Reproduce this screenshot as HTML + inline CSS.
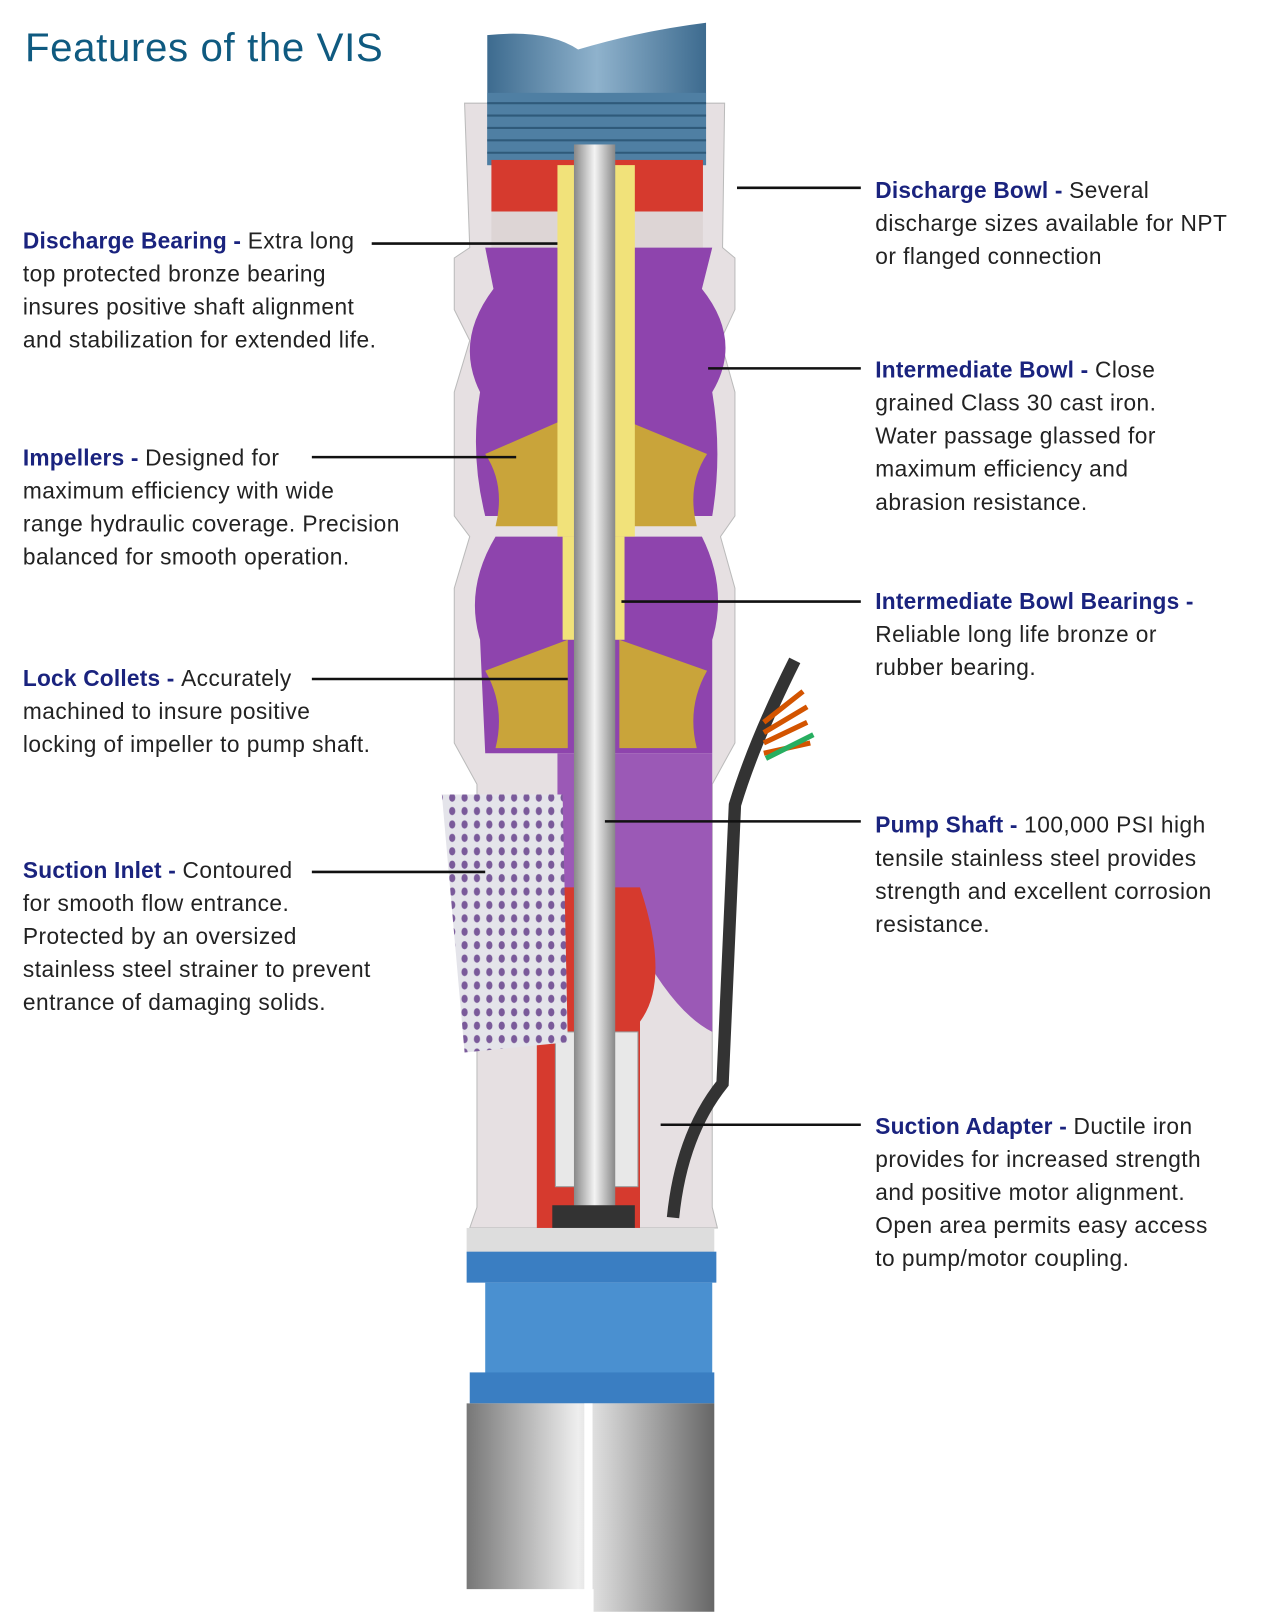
<!DOCTYPE html>
<html><head><meta charset="utf-8"><style>
html,body{margin:0;padding:0;background:#fff;}
svg{display:block}
text{font-family:"Liberation Sans",sans-serif;font-size:22px;letter-spacing:0.45px;fill:#222}
.b{font-weight:bold;fill:#1a237e;letter-spacing:0.2px}
</style></head><body>
<svg width="1280" height="1618" viewBox="0 0 1240 1568" xmlns="http://www.w3.org/2000/svg">
<defs>
<linearGradient id="pipe" x1="0" x2="1"><stop offset="0" stop-color="#3d6b8f"/><stop offset=".5" stop-color="#8fb2cc"/><stop offset="1" stop-color="#3d6b8f"/></linearGradient>
<linearGradient id="steel" x1="0" x2="1"><stop offset="0" stop-color="#777"/><stop offset=".45" stop-color="#eee"/><stop offset="1" stop-color="#666"/></linearGradient>
<linearGradient id="shaft" x1="0" x2="1"><stop offset="0" stop-color="#888"/><stop offset=".5" stop-color="#f4f4f4"/><stop offset="1" stop-color="#888"/></linearGradient>
<pattern id="holes" width="12" height="13" patternUnits="userSpaceOnUse"><rect width="12" height="13" fill="#e4e4ea"/><ellipse cx="6" cy="6" rx="3" ry="4" fill="#7a5a9a"/></pattern>
</defs>
<text x="24" y="59" style="font-size:39px;fill:#0f5a80;letter-spacing:0.6px">Features of the VIS</text>

<!-- casing -->
<path d="M450 100 L702 100 L700 240 L712 250 L712 300 L698 330 L712 380 L712 500 L698 520 L712 570 L712 720 L690 760 L690 1170 L695 1190 L455 1190 L462 1170 L462 760 L440 720 L440 570 L455 520 L440 500 L440 380 L455 330 L440 300 L440 250 L455 240 Z" fill="#e6e0e2" stroke="#bbb"/>
<!-- discharge pipe -->
<path d="M472 34 Q530 28 560 48 Q620 30 684 22 L684 160 L472 160 Z" fill="url(#pipe)"/>
<rect x="472" y="90" width="212" height="70" fill="#4f7fa3"/>
<g stroke="#2f5a7a" stroke-width="2"><line x1="472" y1="100" x2="684" y2="100"/><line x1="472" y1="112" x2="684" y2="112"/><line x1="472" y1="124" x2="684" y2="124"/><line x1="472" y1="136" x2="684" y2="136"/><line x1="472" y1="148" x2="684" y2="148"/></g>
<!-- red discharge -->
<rect x="476" y="155" width="205" height="50" fill="#d63a2e"/>
<rect x="476" y="205" width="205" height="35" fill="#ddd5d5"/>
<!-- purple bowls -->
<path d="M470 240 L690 240 L680 280 Q720 330 690 380 Q700 440 690 500 L470 500 Q455 440 465 380 Q440 330 478 280 Z" fill="#8e44ad"/>
<path d="M480 520 L680 520 Q705 570 690 620 L690 730 L470 730 L465 620 Q450 570 480 520 Z" fill="#8e44ad"/>
<path d="M540 730 L690 730 L690 1000 Q650 980 610 900 L540 860 Z" fill="#9b59b6"/>
<!-- impellers -->
<path d="M470 440 L550 405 L550 510 L480 510 Q490 470 470 440Z" fill="#c9a43a"/>
<path d="M685 440 L600 405 L600 510 L675 510 Q665 470 685 440Z" fill="#c9a43a"/>
<path d="M470 650 L550 620 L550 725 L480 725 Q490 685 470 650Z" fill="#c9a43a"/>
<path d="M685 650 L600 620 L600 725 L675 725 Q665 685 685 650Z" fill="#c9a43a"/>
<!-- bearings -->
<rect x="540" y="160" width="75" height="360" fill="#f1e27a"/>
<rect x="545" y="520" width="60" height="100" fill="#f1e27a"/>
<!-- red suction -->
<path d="M540 860 L620 860 Q650 950 620 990 L620 1190 L520 1190 L520 1000 Q510 940 540 860Z" fill="#d63a2e"/>
<rect x="538" y="1000" width="80" height="150" fill="#e8e8e8" stroke="#999"/>
<!-- strainer -->
<path d="M428 770 L545 770 L550 1010 L450 1020 Z" fill="url(#holes)"/>
<!-- shaft -->
<rect x="556" y="140" width="40" height="1030" fill="url(#shaft)"/>
<rect x="535" y="1168" width="80" height="24" fill="#333"/>
<!-- cable -->
<path d="M770 640 Q730 720 712 780 L700 1050 Q660 1100 652 1180" stroke="#333" stroke-width="12" fill="none"/>
<path d="M740 730 L785 720 M740 720 L782 700 M740 710 L782 685 M740 700 L778 670" stroke="#d35400" stroke-width="5" fill="none"/>
<path d="M742 735 L788 712" stroke="#27ae60" stroke-width="5"/>
<!-- lower blue -->
<rect x="452" y="1190" width="240" height="25" fill="#ddd"/>
<rect x="452" y="1213" width="242" height="30" fill="#3a7ec2"/>
<rect x="470" y="1243" width="220" height="90" fill="#4a90d0"/>
<rect x="455" y="1330" width="237" height="30" fill="#3a7ec2"/>
<path d="M452 1360 L692 1360 L692 1562 L575 1562 L575 1540 L452 1540 Z" fill="url(#steel)"/>
<rect x="566" y="1360" width="8" height="200" fill="#fff"/>

<!-- connectors -->
<g stroke="#111" stroke-width="2.5">
<line x1="360" y1="236" x2="540" y2="236"/>
<line x1="302" y1="443" x2="500" y2="443"/>
<line x1="302" y1="658" x2="550" y2="658"/>
<line x1="302" y1="845" x2="470" y2="845"/>
<line x1="714" y1="182" x2="834" y2="182"/>
<line x1="686" y1="357" x2="834" y2="357"/>
<line x1="602" y1="583" x2="834" y2="583"/>
<line x1="586" y1="796" x2="834" y2="796"/>
<line x1="640" y1="1090" x2="834" y2="1090"/>
</g>

<!-- left text -->
<text x="22" y="241"><tspan class="b">Discharge Bearing - </tspan>Extra long</text>
<text x="22" y="273">top protected bronze bearing</text>
<text x="22" y="305">insures positive shaft alignment</text>
<text x="22" y="337">and stabilization for extended life.</text>
<text x="22" y="451"><tspan class="b">Impellers - </tspan>Designed for</text>
<text x="22" y="483">maximum efficiency with wide</text>
<text x="22" y="515">range hydraulic coverage. Precision</text>
<text x="22" y="547">balanced for smooth operation.</text>
<text x="22" y="665"><tspan class="b">Lock Collets - </tspan>Accurately</text>
<text x="22" y="697">machined to insure positive</text>
<text x="22" y="729">locking of impeller to pump shaft.</text>
<text x="22" y="851"><tspan class="b">Suction Inlet - </tspan>Contoured</text>
<text x="22" y="883">for smooth flow entrance.</text>
<text x="22" y="915">Protected by an oversized</text>
<text x="22" y="947">stainless steel strainer to prevent</text>
<text x="22" y="979">entrance of damaging solids.</text>
<!-- right text -->
<text x="848" y="192"><tspan class="b">Discharge Bowl - </tspan>Several</text>
<text x="848" y="224">discharge sizes available for NPT</text>
<text x="848" y="256">or flanged connection</text>
<text x="848" y="366"><tspan class="b">Intermediate Bowl - </tspan>Close</text>
<text x="848" y="398">grained Class 30 cast iron.</text>
<text x="848" y="430">Water passage glassed for</text>
<text x="848" y="462">maximum efficiency and</text>
<text x="848" y="494">abrasion resistance.</text>
<text x="848" y="590"><tspan class="b">Intermediate Bowl Bearings -</tspan></text>
<text x="848" y="622">Reliable long life bronze or</text>
<text x="848" y="654">rubber bearing.</text>
<text x="848" y="807"><tspan class="b">Pump Shaft - </tspan>100,000 PSI high</text>
<text x="848" y="839">tensile stainless steel provides</text>
<text x="848" y="871">strength and excellent corrosion</text>
<text x="848" y="903">resistance.</text>
<text x="848" y="1099"><tspan class="b">Suction Adapter - </tspan>Ductile iron</text>
<text x="848" y="1131">provides for increased strength</text>
<text x="848" y="1163">and positive motor alignment.</text>
<text x="848" y="1195">Open area permits easy access</text>
<text x="848" y="1227">to pump/motor coupling.</text>
</svg>
</body></html>
